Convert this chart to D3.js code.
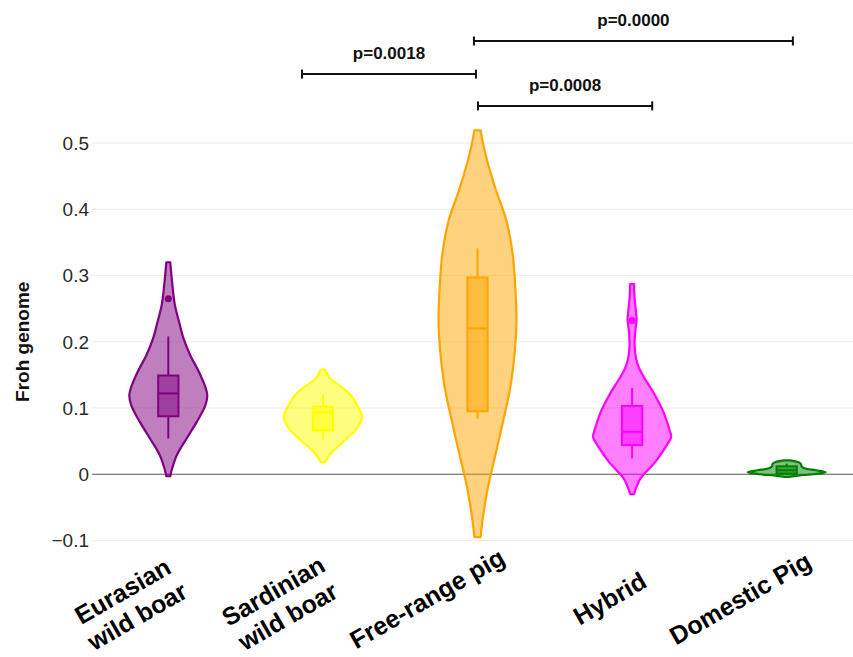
<!DOCTYPE html>
<html>
<head>
<meta charset="utf-8">
<script src="https://cdn.jsdelivr.net/npm/d3@7"></script>
<style>
  body { margin: 0; background: #fff; }
  svg { display: block; font-family: "Liberation Sans", Arial, Helvetica, sans-serif; }
</style>
</head>
<body>
<svg id="chart" width="853" height="657"></svg>
<script>
// ---- data ----
const categories = [["Eurasian", "wild boar"], ["Sardinian", "wild boar"], ["Free-range pig"], ["Hybrid"], ["Domestic Pig"]];
const colors = ["#800080", "#ffff00", "#ffa500", "#ff00ff", "#008000"];

// kernel density outline of each group: [Froh value, relative half-width]
const densityEurasian = [[0.320, 0.05], [0.280, 0.115], [0.255, 0.17], [0.229, 0.28], [0.205, 0.39], [0.180, 0.56], [0.154, 0.79], [0.130, 0.96], [0.119, 1.0], [0.104, 0.95], [0.079, 0.73], [0.054, 0.47], [0.029, 0.22], [0.009, 0.10], [-0.003, 0.05]];
const densitySardinian = [[0.158, 0.05], [0.144, 0.19], [0.131, 0.49], [0.119, 0.72], [0.106, 0.86], [0.0935, 0.97], [0.086, 1.0], [0.068, 0.86], [0.056, 0.65], [0.043, 0.41], [0.031, 0.19], [0.018, 0.05]];
const densityFreeRange = [[0.519, 0.08], [0.484, 0.2], [0.433, 0.45], [0.383, 0.74], [0.333, 0.9], [0.282, 0.97], [0.232, 1.0], [0.182, 0.95], [0.131, 0.84], [0.081, 0.66], [0.032, 0.47], [-0.019, 0.27], [-0.069, 0.13], [-0.095, 0.08]];
const densityHybrid = [[0.287, 0.05], [0.265, 0.065], [0.245, 0.10], [0.233, 0.115], [0.215, 0.08], [0.195, 0.065], [0.175, 0.10], [0.160, 0.18], [0.145, 0.32], [0.120, 0.58], [0.0945, 0.80], [0.069, 0.95], [0.056, 1.0], [0.044, 0.89], [0.019, 0.60], [-0.006, 0.22], [-0.021, 0.10], [-0.030, 0.05]];
const densityDomestic = [[0.021, 0.08], [0.019, 0.25], [0.016, 0.36], [0.012, 0.38], [0.009, 0.45], [0.006, 0.75], [0.003, 1.0], [0.0, 0.7], [-0.002, 0.3], [-0.004, 0.05]];
const densities = [densityEurasian, densitySardinian, densityFreeRange, densityHybrid, densityDomestic];

// box-plot statistics per group
const boxQ1 = [0.0875, 0.066, 0.095, 0.044, 0.001];
const boxMedian = [0.122, 0.0935, 0.220, 0.064, 0.006];
const boxQ3 = [0.149, 0.102, 0.297, 0.103, 0.012];
const whiskerLow = [0.054, 0.0525, 0.084, 0.024, 0.0];
const whiskerHigh = [0.208, 0.121, 0.341, 0.130, 0.016];
const outliers = [[0.265], [], [], [0.232], []];

const yTicks = [-0.1, 0, 0.1, 0.2, 0.3, 0.4, 0.5];
const yTickLabels = ["\u22120.1", "0", "0.1", "0.2", "0.3", "0.4", "0.5"];

// pairwise comparisons: bracket ends in category units, bracket height in Froh units
const compLabels = ["p=0.0018", "p=0.0000", "p=0.0008"];
const compFrom = [0.865, 1.977, 2.003];
const compTo = [1.99, 4.04, 3.13];
const compLevel = [0.604, 0.654, 0.556];

// ---- layout ----
const svg = d3.select("#chart");
const x = d3.scaleLinear().domain([-0.5, 4.5]).range([91, 864]);
const y = d3.scaleLinear().domain([-0.1, 0.5]).range([540.5, 143]);
const halfWidth = d3.scaleLinear().domain([0, 1]).range([0, 39]);
const plotLeft = 92, plotRight = 853;
// horizontal fine-tuning of the rotated category labels (px)
const labelNudge = [9, 5, 0, 28, 4];

// grid
svg.append("g").selectAll("line").data(yTicks.filter(t => t !== 0)).join("line")
  .attr("x1", plotLeft).attr("x2", plotRight)
  .attr("y1", d => y(d)).attr("y2", d => y(d))
  .attr("stroke", "#ebebeb").attr("stroke-width", 1);

// y tick labels
svg.append("g").selectAll("text").data(yTicks).join("text")
  .attr("x", 89).attr("y", d => y(d)).attr("dy", "0.36em")
  .attr("text-anchor", "end").attr("font-size", 19).attr("fill", "#2a2a2a")
  .text((d, i) => yTickLabels[i]);

// zero line
svg.append("line")
  .attr("x1", plotLeft).attr("x2", plotRight).attr("y1", y(0)).attr("y2", y(0))
  .attr("stroke", "#555").attr("stroke-width", 1.2);

// y axis title
svg.append("text")
  .attr("transform", `translate(29,${y(0.2)}) rotate(-90)`)
  .attr("text-anchor", "middle").attr("font-size", 19).attr("font-weight", "bold")
  .attr("fill", "#111").text("Froh genome");

// violins
const violins = svg.append("g");
densities.forEach((dens, i) => {
  const cx = x(i);
  const col = colors[i];
  const area = d3.area()
    .curve(d3.curveCatmullRom.alpha(0.5))
    .y(d => y(d[0]))
    .x0(d => cx - halfWidth(d[1]))
    .x1(d => cx + halfWidth(d[1]));
  const g = violins.append("g");
  g.append("path").attr("d", area(dens))
    .attr("fill", col).attr("fill-opacity", 0.5)
    .attr("stroke", col).attr("stroke-width", 2.2).attr("stroke-linejoin", "round");

  const bw = halfWidth(0.26);
  // whiskers
  g.append("line").attr("x1", cx).attr("x2", cx)
    .attr("y1", y(whiskerHigh[i])).attr("y2", y(boxQ3[i]))
    .attr("stroke", col).attr("stroke-width", 2);
  g.append("line").attr("x1", cx).attr("x2", cx)
    .attr("y1", y(boxQ1[i])).attr("y2", y(whiskerLow[i]))
    .attr("stroke", col).attr("stroke-width", 2);
  // box
  g.append("rect")
    .attr("x", cx - bw).attr("width", 2 * bw)
    .attr("y", y(boxQ3[i])).attr("height", y(boxQ1[i]) - y(boxQ3[i]))
    .attr("fill", col).attr("fill-opacity", 0.5)
    .attr("stroke", col).attr("stroke-width", 2);
  // median
  g.append("line").attr("x1", cx - bw).attr("x2", cx + bw)
    .attr("y1", y(boxMedian[i])).attr("y2", y(boxMedian[i]))
    .attr("stroke", col).attr("stroke-width", 2);
  // outliers
  g.selectAll("circle").data(outliers[i]).join("circle")
    .attr("cx", cx).attr("cy", d => y(d)).attr("r", 3.5).attr("fill", col);
});

// category labels, rotated -30 degrees below the axis
const xl = svg.append("g");
const lineStep = 29;
categories.forEach((lines, i) => {
  const t = xl.append("text")
    .attr("transform", `translate(${x(i) - 46 + labelNudge[i]},606) rotate(-30)`)
    .attr("text-anchor", "middle").attr("font-size", 25).attr("font-weight", "bold")
    .attr("fill", "#000");
  lines.forEach((ln, k) => {
    t.append("tspan").attr("x", 0)
      .attr("y", (k - (lines.length - 1) / 2) * lineStep + (lines.length - 1) * 6)
      .text(ln);
  });
});

// significance brackets
const br = svg.append("g");
compLabels.forEach((lab, i) => {
  const x1 = x(compFrom[i]), x2 = x(compTo[i]), yy = y(compLevel[i]);
  br.append("line").attr("x1", x1).attr("x2", x2).attr("y1", yy).attr("y2", yy)
    .attr("stroke", "#111").attr("stroke-width", 2);
  [x1, x2].forEach(xx => br.append("line")
    .attr("x1", xx).attr("x2", xx).attr("y1", yy - 4.5).attr("y2", yy + 4.5)
    .attr("stroke", "#111").attr("stroke-width", 2));
  br.append("text").attr("x", (x1 + x2) / 2).attr("y", yy - 15)
    .attr("text-anchor", "middle").attr("font-size", 17).attr("font-weight", "bold")
    .attr("fill", "#111").text(lab);
});
</script>
</body>
</html>
